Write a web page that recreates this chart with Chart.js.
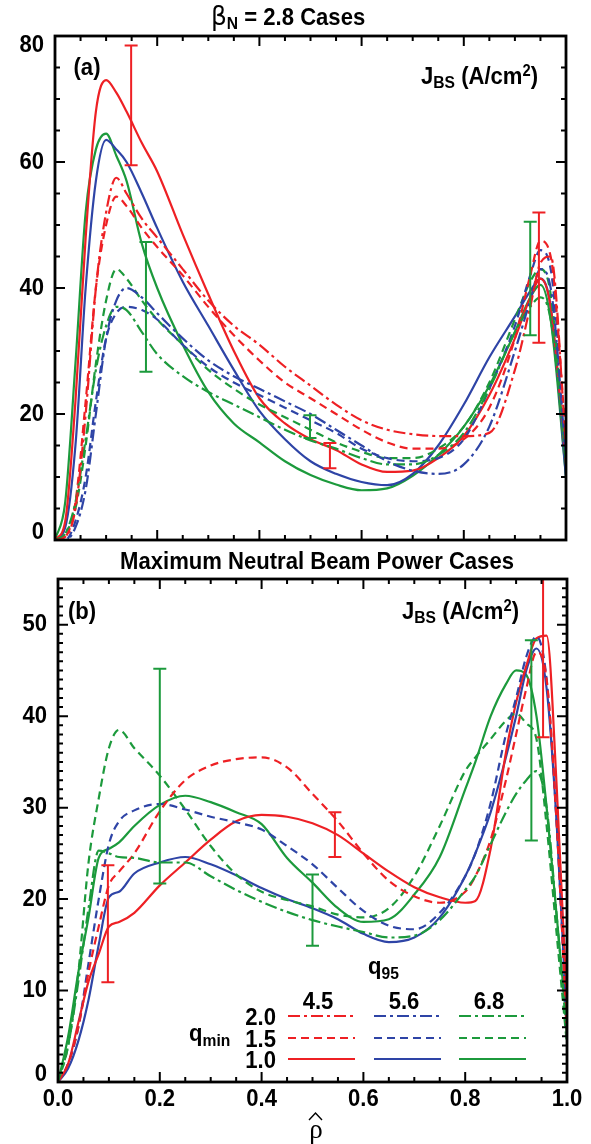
<!DOCTYPE html>
<html>
<head>
<meta charset="utf-8">
<script src="https://cdn.jsdelivr.net/npm/chart.js@4.4.1/dist/chart.umd.min.js"></script>
<style>
  body { margin: 0; background: #fff; }
  canvas { position: absolute; left: 0; }
  #chartA { top: 0; }
  #chartB { top: 545px; }
</style>
</head>
<body>
<canvas id="chartA" width="591" height="545"></canvas>
<canvas id="chartB" width="591" height="599"></canvas>
<script>
// panel (a): beta_N = 2.8 cases
const rhoA = [0, 0.02, 0.04, 0.06, 0.08, 0.1, 0.12, 0.14, 0.17, 0.2, 0.25, 0.3, 0.35, 0.4, 0.45, 0.5, 0.55, 0.6, 0.65, 0.7, 0.75, 0.8, 0.85, 0.9, 0.93, 0.95, 0.97, 1.0];
const aRed10   = [0, 3, 22, 48, 68, 73, 71, 68, 63, 58.5, 48.5, 39, 30, 22.5, 18.5, 16, 14.3, 12, 10.8, 11, 13, 16.5, 23, 32, 38.5, 41.5, 37, 12];
const aRed15   = [0, 0.5, 6, 22, 40, 50, 54.5, 53, 49.5, 46.5, 42, 37, 32.5, 28.5, 25, 22.5, 20, 17.5, 15.5, 14.5, 14.5, 16, 21, 32, 42, 47.5, 45, 16];
const aRed20   = [0, 0.5, 5, 20, 40, 52, 57.5, 55, 51, 48, 43, 38, 34, 31, 27.5, 24.5, 21.5, 19, 17.5, 16.8, 16.5, 16.5, 17, 27, 37, 44, 45, 15];
const aBlue10  = [0, 2, 15, 40, 57, 63.5, 62, 60, 55, 49.5, 41, 34, 27, 20.5, 16, 12.5, 10.5, 9.2, 8.7, 10.5, 15, 21.5, 29, 35.5, 39.5, 41.5, 37, 10];
const aBlue15  = [0, 0, 3, 10, 22, 32, 36, 37, 36.5, 35, 31, 27.5, 25, 23, 21, 19, 17, 14.5, 13, 12.5, 13, 16, 24, 34, 42, 46, 43, 14];
const aBlue20  = [0, 0, 2, 8, 20, 32, 38, 40, 38.5, 36, 32, 28.5, 26, 24, 22, 20, 17.5, 15, 12.5, 11, 10.5, 12, 18, 30, 38, 43, 40, 13];
const aGreen10 = [0, 6, 28, 52, 62, 64.5, 61, 57, 47, 40, 31, 23.5, 18.5, 15.5, 12.5, 10.3, 8.8, 7.9, 8.2, 10.2, 13.5, 18, 24.5, 33, 38.5, 40.5, 35, 10];
const aGreen15 = [0, 1, 5, 15, 28, 38, 43, 41.5, 38, 35, 31, 27, 24, 21.5, 19.5, 17.5, 15.5, 14, 13, 13, 14.5, 18, 25, 35, 41, 43, 39, 12];
const aGreen20 = [0, 1, 6, 16, 27, 34, 37, 36.5, 33, 29.5, 26, 23.5, 21.5, 19.5, 17.5, 15.8, 14.5, 13, 12, 12, 13.5, 17, 24, 33, 37, 38.5, 35, 12];
const aErrRho  = [0.149, 0.178, 0.499, 0.538, 0.93, 0.947];
const aErrLo   = [59.5, 26.7, 16.2, 11.4, 32.5, 31.3];
const aErrHi   = [78.5, 47.3, 19.8, 15.4, 50.5, 52];
const aErrCase = ['4.5', '6.8', '6.8', '4.5', '6.8', '4.5'];
const aYTicks  = [0, 20, 40, 60, 80];

// panel (b): maximum neutral beam power cases
const rhoB = [0, 0.02, 0.04, 0.06, 0.08, 0.1, 0.12, 0.15, 0.2, 0.25, 0.3, 0.35, 0.4, 0.45, 0.5, 0.55, 0.6, 0.65, 0.7, 0.75, 0.8, 0.82, 0.85, 0.88, 0.9, 0.92, 0.94, 0.96, 0.98, 1.0];
const bRed10   = [0, 2, 6.5, 11, 14, 17, 17.5, 18.5, 21.5, 24, 26.5, 28.5, 29.2, 29, 28.3, 27, 25, 23, 21.3, 20.2, 19.6, 19.8, 25.5, 36, 41.5, 45.5, 48.5, 48.8, 32, 8];
const bRed15   = [0, 2, 6, 12, 17, 21.5, 23, 25, 29.6, 33, 34.6, 35.3, 35.5, 34.4, 31.5, 28.5, 25, 22, 20.3, 19.6, 20.8, 22.5, 26.5, 33, 38, 43, 47, 44, 28, 5];
const bBlue10  = [0, 1.5, 4.5, 9, 15, 20.2, 20.8, 22.8, 24, 24.6, 23.8, 22.6, 21.2, 20, 19, 17.8, 16.2, 15.3, 15.8, 18, 22.5, 25, 29.5, 35.5, 40, 45, 47.4, 43, 28, 6];
const bBlue15  = [0, 2, 6, 13, 20, 26, 28.5, 29.7, 30.4, 29.8, 29, 28.4, 27.6, 25.8, 23.8, 21.2, 18.7, 17.1, 16.7, 18.5, 22.5, 25, 30.5, 38, 42, 46.5, 48.7, 44, 28, 5];
const bGreen10 = [0, 5, 12, 18, 24.5, 25.5, 26.2, 28, 30.3, 31.3, 30.6, 29.5, 28.2, 24.5, 21.8, 19, 17.5, 17.8, 20.5, 24.6, 32, 35, 40, 43.5, 45, 44.5, 40, 30, 18, 6];
const bGreen15 = [0, 4, 12, 24, 31, 36.5, 38.5, 36.5, 33.5, 29.8, 25.8, 22.7, 20.8, 19.9, 19.2, 18.3, 18, 19, 22.5, 28, 34, 35.5, 37.5, 39.5, 40.3, 39.2, 37.5, 28, 16, 4];
const bGreen20 = [0, 4, 11, 19, 25.3, 25, 24.6, 24.5, 24, 24, 22.5, 21, 19.7, 18.6, 17.7, 17, 16.4, 15.8, 16, 17.7, 21, 22.5, 26, 29.5, 31.5, 33, 34, 30, 18, 5];
const bErrRho  = [0.098, 0.2, 0.5, 0.544, 0.93, 0.953];
const bErrLo   = [10.9, 21.7, 14.9, 24.6, 26.4, 37.7];
const bErrHi   = [23.7, 45.2, 22.7, 29.5, 48.3, 60];
const bErrCase = ['4.5', '6.8', '6.8', '4.5', '6.8', '4.5'];
const bYTicks  = [0, 10, 20, 30, 40, 50];

const xTicks  = [0, 0.2, 0.4, 0.6, 0.8, 1.0];
const xLabels = ['0.0', '0.2', '0.4', '0.6', '0.8', '1.0'];
const q95List  = ['4.5', '5.6', '6.8'];
const qminList = ['2.0', '1.5', '1.0'];

const colors = { '4.5': '#ee2024', '5.6': '#2e44a6', '6.8': '#1c9a3c' };
const dashes = { '1.0': [], '1.5': [8, 5], '2.0': [12, 4, 3, 4] };
const SANS = '"Liberation Sans", Arial, sans-serif';
const HX = 0.92; // lettering is a little condensed
const font = (size, bold = true) => (bold ? 'bold ' : '') + size + 'px ' + SANS;

function line(xs, ys, q95, qmin) {
  return {
    data: xs.map((x, i) => ({ x: x, y: ys[i] })),
    borderColor: colors[q95],
    borderDash: dashes[qmin],
    borderWidth: 2.2,
    pointRadius: 0,
    fill: false,
    cubicInterpolationMode: 'monotone',
    clip: 0
  };
}

function text(ctx, s, x, y, size, align) {
  ctx.save();
  ctx.translate(x, y);
  ctx.scale(HX, 1);
  ctx.font = font(size);
  ctx.textAlign = align || 'left';
  ctx.textBaseline = 'middle';
  ctx.fillText(s, 0, 0);
  ctx.restore();
}

// text run with sub/superscripts: parts = [{t, s, dy, f}]
function rich(ctx, parts, x, y) {
  parts.forEach(p => {
    ctx.save();
    ctx.translate(x, y + (p.dy || 0));
    ctx.scale(HX, 1);
    ctx.font = p.f || font(p.s);
    ctx.textAlign = 'left';
    ctx.textBaseline = 'middle';
    ctx.fillText(p.t, 0, 0);
    x += ctx.measureText(p.t).width * HX;
    ctx.restore();
  });
}

function axesPlugin(cfg) {
  return {
    id: 'axes' + cfg.name,
    afterDatasetsDraw(chart) {
      const { ctx, chartArea: a, scales: { x, y } } = chart;
      ctx.save();
      // error bars
      ctx.beginPath();
      ctx.rect(a.left, a.top, a.right - a.left, a.bottom - a.top);
      ctx.clip();
      cfg.errRho.forEach((r, i) => {
        const px = x.getPixelForValue(r);
        const lo = y.getPixelForValue(cfg.errLo[i]);
        const hi = y.getPixelForValue(cfg.errHi[i]);
        ctx.strokeStyle = colors[cfg.errCase[i]];
        ctx.lineWidth = 2;
        ctx.setLineDash([]);
        ctx.beginPath();
        ctx.moveTo(px, lo); ctx.lineTo(px, hi);
        ctx.moveTo(px - 6.5, lo); ctx.lineTo(px + 6.5, lo);
        ctx.moveTo(px - 6.5, hi); ctx.lineTo(px + 6.5, hi);
        ctx.stroke();
      });
      ctx.restore();

      ctx.save();
      ctx.strokeStyle = '#000';
      ctx.fillStyle = '#000';
      ctx.lineWidth = 2.8;
      ctx.strokeRect(a.left, a.top, a.right - a.left, a.bottom - a.top);

      // inward ticks on all four sides
      ctx.lineWidth = 2;
      ctx.beginPath();
      for (let i = 0; i <= 20; i++) {
        const px = x.getPixelForValue(i * 0.05);
        const len = i % 4 === 0 ? 10 : 5;
        ctx.moveTo(px, a.bottom); ctx.lineTo(px, a.bottom - len);
        ctx.moveTo(px, a.top); ctx.lineTo(px, a.top + len);
      }
      const n = Math.round((y.max - y.min) / cfg.yMinor);
      for (let i = 0; i <= n; i++) {
        const py = y.getPixelForValue(y.min + i * cfg.yMinor);
        const len = i % cfg.perMajor === 0 ? 10 : 5;
        ctx.moveTo(a.left, py); ctx.lineTo(a.left + len, py);
        ctx.moveTo(a.right, py); ctx.lineTo(a.right - len, py);
      }
      ctx.stroke();

      // tick labels
      cfg.yTicks.forEach(v => {
        let py = y.getPixelForValue(v);
        if (v === y.min) py -= 8;
        if (v === y.max) py += 9;
        text(ctx, String(v), a.left - 11, py, 24, 'right');
      });
      if (cfg.xLabels) {
        xTicks.forEach((v, i) => {
          text(ctx, xLabels[i], x.getPixelForValue(v), a.bottom + 17, 24, 'center');
        });
      }
      ctx.restore();
    },
    afterDraw(chart) {
      const ctx = chart.ctx;
      ctx.save();
      ctx.fillStyle = '#000';
      cfg.texts(ctx, chart);
      ctx.restore();
    }
  };
}

function makeChart(id, datasets, yMax, padding, plugin) {
  return new Chart(document.getElementById(id), {
    type: 'line',
    data: { datasets: datasets },
    options: {
      responsive: false,
      animation: false,
      events: [],
      layout: { padding: padding },
      plugins: { legend: { display: false }, tooltip: { enabled: false } },
      scales: {
        x: { type: 'linear', min: 0, max: 1, display: false },
        y: { type: 'linear', min: 0, max: yMax, display: false }
      }
    },
    plugins: [plugin]
  });
}

makeChart('chartA', [
  line(rhoA, aRed20, '4.5', '2.0'),
  line(rhoA, aBlue20, '5.6', '2.0'),
  line(rhoA, aGreen20, '6.8', '2.0'),
  line(rhoA, aRed15, '4.5', '1.5'),
  line(rhoA, aBlue15, '5.6', '1.5'),
  line(rhoA, aGreen15, '6.8', '1.5'),
  line(rhoA, aRed10, '4.5', '1.0'),
  line(rhoA, aBlue10, '5.6', '1.0'),
  line(rhoA, aGreen10, '6.8', '1.0')
], 80, { top: 36, right: 25, bottom: 5, left: 55 }, axesPlugin({
  name: 'A', yMinor: 5, perMajor: 4, yTicks: aYTicks, xLabels: false,
  errRho: aErrRho, errLo: aErrLo, errHi: aErrHi, errCase: aErrCase,
  texts(ctx) {
    rich(ctx, [
      { t: 'β', f: '27px "DejaVu Sans", sans-serif' },
      { t: 'N', s: 17, dy: 6 },
      { t: ' = 2.8 Cases', s: 24 }
    ], 211, 18);
    text(ctx, '(a)', 87, 68, 24, 'center');
    rich(ctx, [
      { t: 'J', s: 24 }, { t: 'BS', s: 17, dy: 6 },
      { t: ' (A/cm', s: 24 }, { t: '2', s: 16, dy: -5 }, { t: ')', s: 24 }
    ], 421, 77);
  }
}));

makeChart('chartB', [
  line(rhoB, bGreen20, '6.8', '2.0'),
  line(rhoB, bRed15, '4.5', '1.5'),
  line(rhoB, bBlue15, '5.6', '1.5'),
  line(rhoB, bGreen15, '6.8', '1.5'),
  line(rhoB, bRed10, '4.5', '1.0'),
  line(rhoB, bBlue10, '5.6', '1.0'),
  line(rhoB, bGreen10, '6.8', '1.0')
], 55, { top: 34, right: 24, bottom: 62, left: 58 }, axesPlugin({
  name: 'B', yMinor: 1, perMajor: 10, yTicks: bYTicks, xLabels: true,
  errRho: bErrRho, errLo: bErrLo, errHi: bErrHi, errCase: bErrCase,
  texts(ctx) {
    text(ctx, 'Maximum Neutral Beam Power Cases', 317, 17, 24, 'center');
    text(ctx, '(b)', 82, 67, 24, 'center');
    rich(ctx, [
      { t: 'J', s: 24 }, { t: 'BS', s: 17, dy: 6 },
      { t: ' (A/cm', s: 24 }, { t: '2', s: 16, dy: -5 }, { t: ')', s: 24 }
    ], 402, 67);

    // legend: q95 columns, qmin rows
    rich(ctx, [{ t: 'q', s: 24 }, { t: '95', s: 17, dy: 7 }], 368, 422);
    rich(ctx, [{ t: 'q', s: 24 }, { t: 'min', s: 17, dy: 7 }], 189, 489);
    const colX = [288, 374, 459];
    const rowY = [471, 493, 514];
    q95List.forEach((q, c) => text(ctx, q, colX[c] + 30, 457, 24, 'center'));
    qminList.forEach((q, r) => text(ctx, q, 276, rowY[r] + 2, 24, 'right'));
    ctx.lineWidth = 2.2;
    q95List.forEach((q, c) => {
      qminList.forEach((m, r) => {
        ctx.strokeStyle = colors[q];
        ctx.setLineDash(dashes[m]);
        ctx.beginPath();
        ctx.moveTo(colX[c], rowY[r]);
        ctx.lineTo(colX[c] + 67, rowY[r]);
        ctx.stroke();
      });
    });
    ctx.setLineDash([]);

    // rho-hat axis title
    ctx.font = '27px "Liberation Serif", serif';
    ctx.textAlign = 'center';
    ctx.textBaseline = 'middle';
    ctx.fillText('ρ', 316, 586);
    ctx.strokeStyle = '#000';
    ctx.lineWidth = 1.4;
    ctx.beginPath();
    ctx.moveTo(309, 575); ctx.lineTo(315.5, 568); ctx.lineTo(322, 575);
    ctx.stroke();
  }
}));
</script>
</body>
</html>
